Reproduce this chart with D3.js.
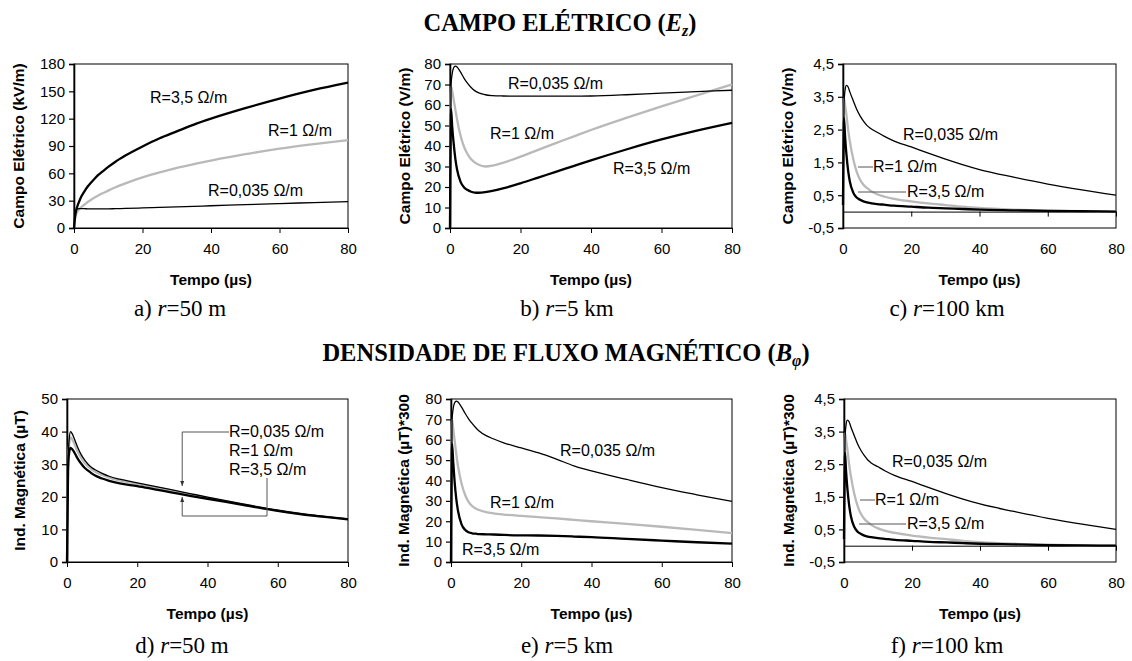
<!DOCTYPE html>
<html>
<head>
<meta charset="utf-8">
<script src="https://cdn.jsdelivr.net/npm/d3@7"></script>
<style>
  html, body { margin: 0; padding: 0; background: #fff; }
  svg { display: block; }
  .tick text { font-family: "Liberation Sans", Arial, sans-serif; }
</style>
</head>
<body>
<svg id="fig" width="1132" height="661"></svg>
<script>
// Time samples (µs) shared by every waveform
const timeUs = [0, 0.3, 0.6, 1, 1.5, 2, 3, 4, 5, 6, 7, 8, 10, 12, 15, 20, 25, 30, 35, 40, 50, 60, 70, 80];

// Electric field Ez, r = 50 m (kV/m)
const ez50m_r0035 = [0, 14, 19, 21, 21.3, 21.3, 21.2, 21.1, 21, 21, 21, 21, 21, 21.2, 21.5, 22, 22.6, 23.2, 23.8, 24.4, 25.6, 26.8, 27.9, 29];
const ez50m_r1    = [0, 10, 15, 18, 20.5, 22.5, 25.5, 28.5, 31, 33.5, 35.5, 37.5, 41, 44.5, 49, 55.5, 61, 66, 70.2, 74, 81, 87, 92, 96.5];
const ez50m_r35   = [0, 12, 19, 24, 29, 33.5, 40, 45.5, 50, 54, 58, 61, 67, 72.5, 79.5, 89.5, 98.5, 106, 113.5, 120, 131.5, 142, 151.5, 159.5];

// Electric field Ez, r = 5 km (V/m)
const ez5km_r0035 = [0, 70, 75, 78, 79, 78.5, 76, 73, 70.5, 68.5, 67, 66, 65, 64.6, 64.4, 64.3, 64.3, 64.3, 64.3, 64.4, 65, 65.8, 66.5, 67.2];
const ez5km_r1    = [0, 69, 67, 63, 58, 53, 45, 39.5, 36, 33.5, 32, 31, 30, 30.4, 31.8, 34.8, 38.1, 41.4, 44.6, 47.8, 53.7, 59.3, 64.7, 70];
const ez5km_r35   = [0, 58, 50, 42, 34, 28.5, 22.5, 19.8, 18.5, 17.7, 17.3, 17.2, 17.5, 18.1, 19.3, 21.8, 24.6, 27.4, 30.2, 33, 38.3, 43.2, 47.5, 51.3];

// Electric field Ez, r = 100 km (V/m)
const ez100km_r0035 = [0.2, 3.3, 3.7, 3.85, 3.8, 3.65, 3.38, 3.12, 2.92, 2.76, 2.63, 2.54, 2.42, 2.3, 2.15, 1.97, 1.78, 1.6, 1.43, 1.28, 1.05, 0.84, 0.66, 0.5];
const ez100km_r1    = [0.2, 3.45, 3.25, 2.95, 2.5, 2.15, 1.6, 1.22, 0.97, 0.82, 0.72, 0.64, 0.53, 0.46, 0.39, 0.31, 0.25, 0.2, 0.15, 0.11, 0.06, 0.03, 0.01, 0];
const ez100km_r35   = [0.2, 2.85, 2.3, 1.75, 1.25, 0.92, 0.58, 0.43, 0.36, 0.31, 0.28, 0.26, 0.23, 0.21, 0.18, 0.15, 0.12, 0.1, 0.08, 0.06, 0.04, 0.02, 0.01, 0];

// Magnetic flux density Bφ, r = 50 m (µT)
const bp50m_r0035 = [0, 30, 37.5, 40, 39.3, 38, 35.3, 33, 31.3, 30, 29, 28.3, 27.2, 26.3, 25.4, 24.3, 23.2, 22.1, 21, 19.9, 17.8, 15.9, 14.4, 13.2];
const bp50m_r1    = [0, 29, 36, 38.2, 37.6, 36.5, 34, 32, 30.4, 29.3, 28.4, 27.7, 26.7, 25.9, 25, 24, 22.9, 21.8, 20.7, 19.7, 17.7, 15.8, 14.3, 13.2];
const bp50m_r35   = [0, 28, 33.5, 35, 34.6, 33.8, 31.8, 30.2, 28.9, 28, 27.2, 26.5, 25.6, 24.9, 24.1, 23.3, 22.3, 21.3, 20.3, 19.4, 17.5, 15.7, 14.2, 13.1];

// Magnetic flux density Bφ ×300, r = 5 km
const bp5km_r0035 = [0, 70, 75, 78, 79, 78.5, 76, 73, 70.3, 68, 66, 64.3, 62, 60.5, 58.5, 56, 53.5, 50.5, 47.2, 44.7, 40.5, 36.5, 33, 29.7];
const bp5km_r1    = [0, 70, 66, 60, 53, 47, 38.5, 33, 29.5, 27.5, 26.3, 25.5, 24.5, 23.9, 23.3, 22.6, 22, 21.4, 20.7, 20, 18.7, 17.3, 15.8, 14.2];
const bp5km_r35   = [0, 58, 50, 40, 31, 25, 18.5, 15.8, 14.6, 14.1, 13.9, 13.7, 13.6, 13.5, 13.3, 13.1, 13, 12.8, 12.5, 12.2, 11.3, 10.5, 9.7, 9];

// Magnetic flux density Bφ ×300, r = 100 km
const bp100km_r0035 = [0.2, 3.3, 3.7, 3.85, 3.8, 3.65, 3.38, 3.12, 2.92, 2.76, 2.63, 2.54, 2.42, 2.3, 2.15, 1.97, 1.78, 1.6, 1.43, 1.28, 1.05, 0.84, 0.66, 0.5];
const bp100km_r1    = [0.2, 3.45, 3.25, 2.95, 2.5, 2.15, 1.6, 1.22, 0.97, 0.82, 0.72, 0.64, 0.53, 0.46, 0.39, 0.31, 0.25, 0.2, 0.15, 0.11, 0.06, 0.03, 0.01, 0];
const bp100km_r35   = [0.2, 2.85, 2.3, 1.75, 1.25, 0.92, 0.58, 0.43, 0.36, 0.31, 0.28, 0.26, 0.23, 0.21, 0.18, 0.15, 0.12, 0.1, 0.08, 0.06, 0.04, 0.02, 0.01, 0];

// Axis ticks
const xTicks = [0, 20, 40, 60, 80];
const yTicksA = [0, 30, 60, 90, 120, 150, 180];
const yTicks80 = [0, 10, 20, 30, 40, 50, 60, 70, 80];
const yTicksSmall = [-0.5, 0.5, 1.5, 2.5, 3.5, 4.5];
const yTicksD = [0, 10, 20, 30, 40, 50];

// Series labels
const seriesNames = ["R=0,035 \u03A9/m", "R=1 \u03A9/m", "R=3,5 \u03A9/m"];

const SANS = '"Liberation Sans", Arial, sans-serif';
const SERIF = '"Liberation Serif", "Times New Roman", serif';
const TICK_FS = 15, AXT_FS = 15.5, LAB_FS = 16;

const svg = d3.select("#fig");
const fmt = v => String(v).replace(".", ",");

// styles per resistance value
const seriesStyle = [
  { stroke: "#000", width: 1.3 },   // 0.035 Ω/m
  { stroke: "#b9b9b9", width: 2.3 },// 1 Ω/m
  { stroke: "#000", width: 2.3 }    // 3.5 Ω/m
];

function panel(cfg) {
  const { left, right, top, bottom, yDomain, yTicks, ylabel, series, labels, ylabX, zeroLine } = cfg;
  const x = d3.scaleLinear().domain([0, 80]).range([left, right]);
  const y = d3.scaleLinear().domain(yDomain).range([bottom, top]);
  const g = svg.append("g");

  // plot frame
  g.append("rect").attr("x", left).attr("y", top)
    .attr("width", right - left).attr("height", bottom - top)
    .attr("fill", "none").attr("stroke", "#000").attr("stroke-width", 1);

  // y axis
  const ya = g.append("g").attr("transform", `translate(${left},0)`)
    .call(d3.axisLeft(y).tickValues(yTicks).tickFormat(fmt).tickSizeOuter(0).tickSize(5).tickPadding(4));
  ya.select(".domain").attr("stroke-width", 1.6);
  ya.selectAll(".tick line").attr("stroke-width", 1.2);
  ya.selectAll(".tick text").attr("font-size", TICK_FS).attr("fill", "#000");

  if (zeroLine) {
    // axis line crossing at zero, labels kept at the bottom
    const za = g.append("g").attr("transform", `translate(0,${y(0)})`)
      .call(d3.axisBottom(x).tickValues(xTicks).tickFormat("").tickSize(5).tickSizeOuter(0));
    za.select(".domain").attr("stroke-width", 1);
    const xb = g.append("g").attr("transform", `translate(0,${bottom})`)
      .call(d3.axisBottom(x).tickValues(xTicks).tickSize(0).tickPadding(15));
    xb.select(".domain").remove();
    xb.selectAll(".tick text").attr("font-size", TICK_FS).attr("fill", "#000");
  } else {
    const xa = g.append("g").attr("transform", `translate(0,${bottom})`)
      .call(d3.axisBottom(x).tickValues(xTicks).tickSize(5).tickSizeOuter(0).tickPadding(10));
    xa.select(".domain").attr("stroke-width", 1.2);
    xa.selectAll(".tick text").attr("font-size", TICK_FS).attr("fill", "#000");
  }

  // curves: gray first, then black ones
  const line = d3.line().x((d, i) => x(timeUs[i])).y(d => y(d)).curve(d3.curveMonotoneX);
  [1, 2, 0].forEach(k => {
    g.append("path").datum(series[k]).attr("d", line)
      .attr("fill", "none").attr("stroke", seriesStyle[k].stroke)
      .attr("stroke-width", seriesStyle[k].width).attr("stroke-linejoin", "round");
  });

  // axis titles
  g.append("text").attr("x", (left + right) / 2).attr("y", bottom + 57)
    .attr("text-anchor", "middle").attr("font-family", SANS).attr("font-weight", "bold")
    .attr("font-size", AXT_FS).text("Tempo (\u00B5s)");
  g.append("text").attr("transform", `translate(${ylabX},${(top + bottom) / 2}) rotate(-90)`)
    .attr("text-anchor", "middle").attr("font-family", SANS).attr("font-weight", "bold")
    .attr("font-size", AXT_FS).text(ylabel);

  // in-plot labels
  (labels || []).forEach(l => {
    g.append("text").attr("x", l.x).attr("y", l.y).attr("font-family", SANS)
      .attr("font-size", LAB_FS).text(seriesNames[l.k]);
    if (l.lead) {
      g.append("line").attr("x1", l.lead[0]).attr("x2", l.lead[1])
        .attr("y1", l.lead[2]).attr("y2", l.lead[2])
        .attr("stroke", "#555").attr("stroke-width", 1);
    }
  });
  return { x, y, g };
}

// top row: electric field
panel({ left: 74, right: 348, top: 64, bottom: 228, yDomain: [0, 180], yTicks: yTicksA,
  ylabel: "Campo El\u00E9trico (kV/m)", ylabX: 24,
  series: [ez50m_r0035, ez50m_r1, ez50m_r35],
  labels: [{ k: 2, x: 150, y: 103 }, { k: 1, x: 268, y: 136 }, { k: 0, x: 208, y: 196 }] });

panel({ left: 450, right: 732, top: 64, bottom: 228, yDomain: [0, 80], yTicks: yTicks80,
  ylabel: "Campo El\u00E9trico (V/m)", ylabX: 410,
  series: [ez5km_r0035, ez5km_r1, ez5km_r35],
  labels: [{ k: 0, x: 508, y: 89 }, { k: 1, x: 490, y: 139 }, { k: 2, x: 613, y: 174 }] });

panel({ left: 843, right: 1116, top: 64, bottom: 228, yDomain: [-0.5, 4.5], yTicks: yTicksSmall,
  ylabel: "Campo El\u00E9trico (V/m)", ylabX: 793, zeroLine: true,
  series: [ez100km_r0035, ez100km_r1, ez100km_r35],
  labels: [{ k: 0, x: 903, y: 140 }, { k: 1, x: 873, y: 172, lead: [858, 873, 167] },
           { k: 2, x: 907, y: 197, lead: [858, 906, 192] }] });

// bottom row: magnetic flux density
const pd = panel({ left: 67, right: 348, top: 399, bottom: 562, yDomain: [0, 50], yTicks: yTicksD,
  ylabel: "Ind. Magn\u00E9tica (\u00B5T)", ylabX: 25,
  series: [bp50m_r0035, bp50m_r1, bp50m_r35],
  labels: [{ k: 0, x: 229, y: 437 }, { k: 1, x: 229, y: 456 }, { k: 2, x: 229, y: 475 }] });

panel({ left: 451, right: 732, top: 399, bottom: 562, yDomain: [0, 80], yTicks: yTicks80,
  ylabel: "Ind. Magn\u00E9tica (\u00B5T)*300", ylabX: 409,
  series: [bp5km_r0035, bp5km_r1, bp5km_r35],
  labels: [{ k: 0, x: 560, y: 456 }, { k: 1, x: 490, y: 508 }, { k: 2, x: 462, y: 555 }] });

panel({ left: 844, right: 1116, top: 399, bottom: 562, yDomain: [-0.5, 4.5], yTicks: yTicksSmall,
  ylabel: "Ind. Magn\u00E9tica (\u00B5T)*300", ylabX: 794, zeroLine: true,
  series: [bp100km_r0035, bp100km_r1, bp100km_r35],
  labels: [{ k: 0, x: 892, y: 467 }, { k: 1, x: 875, y: 505, lead: [860, 875, 500] },
           { k: 2, x: 907, y: 529, lead: [859, 906, 524] }] });

// bracket with arrows pointing at the bundle of curves in the 50 m panel
const defs = svg.append("defs");
defs.append("marker").attr("id", "arrow").attr("viewBox", "0 0 10 10")
  .attr("refX", 10).attr("refY", 5).attr("markerWidth", 5).attr("markerHeight", 5)
  .attr("orient", "auto").append("path").attr("d", "M0,1 L10,5 L0,9 Z").attr("fill", "#333");
{
  const bx = pd.x(32.8), tx = 229, vx = 267;
  pd.g.append("path").attr("d", `M${tx},432 H${bx} V486`)
    .attr("fill", "none").attr("stroke", "#555").attr("stroke-width", 1).attr("marker-end", "url(#arrow)");
  pd.g.append("path").attr("d", `M${vx},478 V516 H${bx} V497`)
    .attr("fill", "none").attr("stroke", "#555").attr("stroke-width", 1).attr("marker-end", "url(#arrow)");
}

// section titles
function title(cx, cy, main, sym, sub) {
  const t = svg.append("text").attr("x", cx).attr("y", cy).attr("text-anchor", "middle")
    .attr("font-family", SERIF).attr("font-weight", "bold").attr("font-size", 24.5);
  t.append("tspan").text(main + " (");
  t.append("tspan").attr("font-style", "italic").text(sym);
  t.append("tspan").attr("font-style", "italic").attr("font-size", 16).attr("dy", 5).text(sub);
  t.append("tspan").attr("dy", -5).text(")");
}
title(560, 31, "CAMPO EL\u00C9TRICO", "E", "z");
title(566, 361, "DENSIDADE DE FLUXO MAGN\u00C9TICO", "B", "\u03C6");

// panel captions
const captions = [
  ["a) ", "=50 m", 180, 316], ["b) ", "=5 km", 567, 316], ["c) ", "=100 km", 947, 316],
  ["d) ", "=50 m", 182, 653], ["e) ", "=5 km", 567, 653], ["f) ", "=100 km", 947, 653]
];
captions.forEach(([pre, post, cx, cy]) => {
  const t = svg.append("text").attr("x", cx).attr("y", cy).attr("text-anchor", "middle")
    .attr("font-family", SERIF).attr("font-size", 23);
  t.append("tspan").text(pre);
  t.append("tspan").attr("font-style", "italic").text("r");
  t.append("tspan").text(post);
});
</script>
</body>
</html>
